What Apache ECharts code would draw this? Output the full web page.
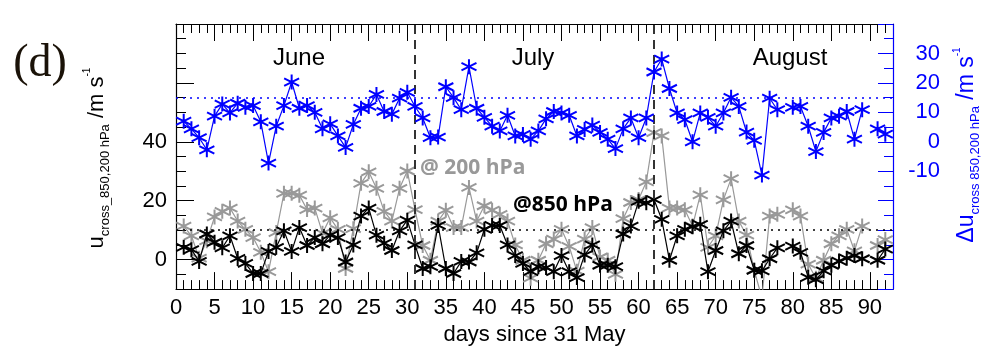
<!DOCTYPE html>
<html>
<head>
<meta charset="utf-8">
<script src="https://cdn.jsdelivr.net/npm/echarts@6/dist/echarts.min.js"></script>
<style>
html,body{margin:0;padding:0;background:#fff;}
#c{width:986px;height:351px;}
</style>
</head>
<body>
<div id="c"></div>
<script>
// ---- data ----
const days = [1,2,3,4,5,6,7,8,9,10,11,12,13,14,15,16,17,18,19,20,21,22,23,24,25,26,27,28,29,30,
  31,32,33,34,35,36,37,38,39,40,41,42,43,44,45,46,47,48,49,50,51,52,53,54,55,56,57,58,59,60,61,
  62,63,64,65,66,67,68,69,70,71,72,73,74,75,76,77,78,79,80,81,82,83,84,85,86,87,88,89,90,91,92];

// Delta u (right axis, blue)
const deltaU = [7.0,4.4,1.4,-2.7,8.7,12.8,9.8,13.1,11.7,12.3,6.8,-7.2,5.3,12.3,20.3,11.4,12.3,10.0,4.4,6.1,
  2.0,-1.9,5.9,11.4,12.0,16.1,10.3,9.4,14.8,16.8,
  12.0,8.1,1.4,1.6,18.7,15.0,10.9,25.5,11.4,8.3,5.3,3.7,9.0,2.0,2.5,0.9,3.7,7.8,10.3,9.8,9.0,2.0,4.2,5.7,3.2,0.9,-2.3,4.4,8.1,1.4,8.1,
  23.7,28.1,18.1,9.8,7.5,0.0,9.8,8.3,5.3,9.8,15.1,12.0,3.3,0.5,-11.3,14.8,10.9,null,11.7,12.0,5.3,-3.3,3.2,8.1,8.7,10.3,0.9,10.9,null,4.4,2.6];

// u at 200 hPa (left axis, gray)
const u200 = [11.4,8.1,0.5,6.4,14.5,16.4,17.5,13.1,10.3,7.5,2.5,-4.1,9.2,22.5,22.5,21.9,17.0,17.5,9.0,14.2,
  10.3,-3.0,10.5,25.9,29.8,24.2,16.4,13.1,24.2,30.1,
  17.0,4.8,-0.2,13.1,16.8,10.9,10.9,24.5,13.1,18.3,16.8,15.4,13.1,5.0,-0.2,-6.3,-0.2,5.4,7.0,10.3,4.5,-3.9,7.0,10.9,0.9,-0.2,-5.0,13.9,19.4,20.4,26.4,
  43.1,42.0,17.5,17.5,16.9,11.4,22.0,4.2,8.1,20.3,27.5,13.1,8.3,-3.6,-13.0,14.8,15.4,null,16.9,14.8,-1.5,-6.3,-0.2,5.4,8.1,10.3,3.0,11.4,null,4.8,6.8];

// u at 850 hPa (left axis, black)
const u850 = [4.2,3.4,-0.6,8.7,5.9,4.0,8.1,0.4,-1.3,-4.7,-4.7,2.8,4.2,9.8,2.8,10.9,4.8,7.5,5.4,8.3,
  7.5,-0.8,5.0,14.8,17.5,8.3,5.6,3.1,9.8,13.4,
  5.0,-3.0,-2.4,11.6,-3.0,-4.7,-0.6,-0.8,2.3,10.3,11.6,11.6,5.0,1.4,-1.3,-4.1,-2.4,-2.7,-4.1,1.4,-4.1,-6.1,1.6,5.0,-1.9,-1.9,-2.4,8.7,11.4,19.8,19.3,
  20.4,13.7,-0.2,8.1,10.3,11.2,12.0,-4.1,3.1,9.8,13.1,2.0,4.8,-3.6,-3.8,0.3,4.0,null,4.6,2.5,-6.0,-6.8,-3.8,-1.9,-0.5,0.5,1.4,0.3,null,-0.2,3.6];

const xMajorTicks = [0,5,10,15,20,25,30,35,40,45,50,55,60,65,70,75,80,85,90];
const leftLabels = [0,20,40];
const rightLabels = [-10,0,10,20,30];
const monthBoundaries = [31,62];
const ref850 = 10;
const refDelta = 15;
const months = ['June','July','August'];

// ---- helpers ----
const pairs = arr => days.map((d,i)=>[d, arr[i]===null ? '-' : arr[i]]);
const star = 'path://M50,0L50,100M6.7,25L93.3,75M6.7,75L93.3,25';
const range = (a,b,s) => { const r=[]; for(let v=a; v<=b+1e-9; v+=s) r.push(v); return r; };
const xMinor = range(1,92,1).filter(v=>v%5!==0);
const FONT = 'Liberation Sans, Arial, Helvetica, sans-serif';

const chart = echarts.init(document.getElementById('c'), null, {renderer:'canvas'});

function xAx(pos, ticks, len, showLine, showLabel){
  return {
    type:'value', position:pos, min:0, max:93,
    axisLine:{show:showLine, onZero:false, lineStyle:{color:'#000', width:1.2}},
    axisTick:{show:true, inside:true, length:len, customValues:ticks, lineStyle:{color:'#000', width:1}},
    axisLabel:{show:showLabel, customValues:xMajorTicks, fontSize:22, color:'#000', fontFamily:FONT, margin:8},
    splitLine:{show:false}
  };
}
function yAx(pos, min, max, ticks, len, color, showLine, labels, extra){
  return Object.assign({
    type:'value', position:pos, min:min, max:max,
    axisLine:{show:showLine, onZero:false, lineStyle:{color:color, width:1.2}},
    axisTick:{show:true, inside:true, length:len, customValues:ticks, lineStyle:{color:color, width:1}},
    axisLabel:{show:!!labels, customValues:labels||[], fontSize:22, color:color, fontFamily:FONT},
    splitLine:{show:false}
  }, extra||{});
}

const xAxes = [
  Object.assign(xAx('bottom', xMajorTicks, 17, true, true), {
    name:'days since 31 May', nameLocation:'middle', nameGap:34,
    nameTextStyle:{fontSize:22, color:'#000', fontFamily:FONT}
  }),
  xAx('bottom', xMinor, 9, false, false),
  xAx('top', xMajorTicks, 17, true, false),
  xAx('top', xMinor, 9, false, false)
];

const yAxes = [
  yAx('left', -10, 80, range(-10,80,5), 10, '#000', true, leftLabels),
  yAx('right', -50, 40, range(-50,40,5), 9, '#0000ff', true, rightLabels),
  yAx('left', -10, 80, [0,20,40,60,80], 18, '#000', false, null),
  yAx('right', -50, 40, range(-50,40,10), 15, '#0000ff', false, null)
];
yAxes[0].axisLabel.margin = 9;
yAxes[1].axisLabel.align = 'right';
yAxes[1].axisLabel.margin = 47;

function lineSeries(name, arr, color, yIdx, z, markLine){
  const s = {
    name:name, type:'line', xAxisIndex:0, yAxisIndex:yIdx, data:pairs(arr),
    connectNulls:false, symbol:star, symbolSize:15, showSymbol:true, z:z,
    lineStyle:{color:color, width:1.2},
    itemStyle:{color:color, borderColor:color, borderWidth:2},
    emphasis:{disabled:true}
  };
  if (markLine) s.markLine = markLine;
  return s;
}

const option = {
  animation:false,
  backgroundColor:'#fff',
  grid:{left:176, right:93, top:24, bottom:57, containLabel:false},
  xAxis:xAxes,
  yAxis:yAxes,
  series:[
    lineSeries('u200', u200, '#999999', 0, 3),
    lineSeries('u850', u850, '#000000', 0, 4, {
      silent:true, symbol:['none','none'], label:{show:false},
      data:[
        {xAxis:monthBoundaries[0], lineStyle:{type:[9,6], color:'#333', width:2}},
        {xAxis:monthBoundaries[1], lineStyle:{type:[9,6], color:'#333', width:2}},
        {yAxis:ref850, lineStyle:{type:[2,5], color:'#000', width:1.5}}
      ]
    }),
    lineSeries('deltaU', deltaU, '#0000ff', 1, 5, {
      silent:true, symbol:['none','none'], label:{show:false},
      data:[{yAxis:refDelta, lineStyle:{type:[2,5], color:'#0000ff', width:1.5}}]
    })
  ],
  graphic:{elements:[
    {type:'text', x:299, y:58, style:{text:months[0], font:'24px '+FONT, fill:'#000', textAlign:'center', textVerticalAlign:'middle'}},
    {type:'text', x:533, y:58, style:{text:months[1], font:'24px '+FONT, fill:'#000', textAlign:'center', textVerticalAlign:'middle'}},
    {type:'text', x:790, y:58, style:{text:months[2], font:'24px '+FONT, fill:'#000', textAlign:'center', textVerticalAlign:'middle'}},
    {type:'text', x:420, y:168, style:{text:'@ 200 hPa', font:'bold 21px "Open Sans", sans-serif', fill:'#999', textAlign:'left', textVerticalAlign:'middle'}},
    {type:'text', x:513, y:205, style:{text:'@850 hPa', font:'bold 21px "Open Sans", sans-serif', fill:'#000', textAlign:'left', textVerticalAlign:'middle'}},
    {type:'text', x:40, y:64, style:{text:'(d)', font:'46px "Liberation Serif", "Times New Roman", serif', fill:'#1a1208', textAlign:'center', textVerticalAlign:'middle'}},
    {type:'text', x:97, y:158, rotation:Math.PI/2, style:{
      text:'{m|u}{s|cross_850,200 hPa}{m| /m s}{p|-1}',
      textAlign:'center', textVerticalAlign:'middle', fill:'#000',
      rich:{
        m:{fontSize:22, fontFamily:FONT, lineHeight:30, fill:'#000'},
        s:{fontSize:13, fontFamily:FONT, lineHeight:12, verticalAlign:'bottom', fill:'#000'},
        p:{fontSize:10, fontFamily:FONT, lineHeight:12, verticalAlign:'top', fill:'#000'}
      }
    }},
    {type:'text', x:967, y:145, rotation:Math.PI/2, style:{
      text:'{m|\u0394u}{s|cross 850,200 hPa}{m| /m s}{p|-1}',
      textAlign:'center', textVerticalAlign:'middle', fill:'#0000ff',
      rich:{
        m:{fontSize:23, fontFamily:FONT, lineHeight:30, fill:'#0000ff'},
        s:{fontSize:13, fontFamily:FONT, lineHeight:12, verticalAlign:'bottom', fill:'#0000ff'},
        p:{fontSize:10, fontFamily:FONT, lineHeight:12, verticalAlign:'top', fill:'#0000ff'}
      }
    }}
  ]}
};
chart.setOption(option);
</script>
</body>
</html>
